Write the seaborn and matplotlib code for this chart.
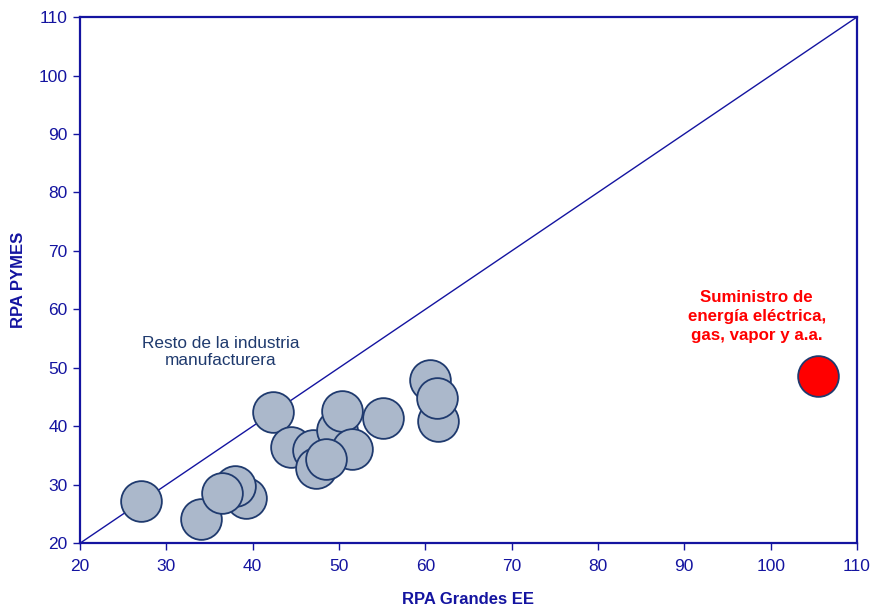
import matplotlib

matplotlib.use("Agg")
import matplotlib.pyplot as plt
import pandas as pd
import seaborn as sns

# RPA de grandes empresas (x) vs RPA de PYMES (y), por rama
rest_x = [27.1, 34.0, 39.2, 38.0, 36.5, 42.4, 44.5, 47.0, 49.8, 47.3, 50.3, 51.5, 48.5, 55.1, 60.5, 61.5, 61.3]
rest_y = [27.2, 24.2, 27.8, 29.8, 28.6, 42.4, 36.5, 35.9, 39.3, 32.8, 42.7, 36.1, 34.4, 41.4, 47.9, 40.9, 44.9]
energy_x = [105.5]
energy_y = [48.6]
diag = [20, 110]

NAVY = "#1414A0"
TEXT_NAVY = "#1F3A6E"

sns.set_theme(style="white")
plt.rcParams["font.family"] = ["Liberation Sans", "DejaVu Sans"]

df_rest = pd.DataFrame({"x": rest_x, "y": rest_y})
df_energy = pd.DataFrame({"x": energy_x, "y": energy_y})

fig, ax = plt.subplots(figsize=(8.74, 6.09), dpi=100)
fig.subplots_adjust(left=0.0915, right=0.9805, top=0.972, bottom=0.108)

ax.plot(diag, diag, color=NAVY, linewidth=1.0, zorder=1)
sns.scatterplot(data=df_rest, x="x", y="y", s=860, color="#ABB8CB",
                edgecolor="#1F3A6E", linewidth=1.3, ax=ax, zorder=3, legend=False)
sns.scatterplot(data=df_energy, x="x", y="y", s=860, color="#FF0000",
                edgecolor="#1F3A6E", linewidth=1.3, ax=ax, zorder=3, legend=False)

ax.set_xlim(20, 110)
ax.set_ylim(20, 110)
ax.set_xticks(range(20, 111, 10))
ax.set_yticks(range(20, 111, 10))

for side in ["left", "bottom", "top", "right"]:
    ax.spines[side].set_color(NAVY)
    ax.spines[side].set_linewidth(1.6)
ax.tick_params(axis="both", direction="out", length=5, width=1, color=NAVY,
               labelcolor=NAVY, labelsize=12.5, bottom=True, left=True)
ax.tick_params(axis="x", pad=6)
ax.tick_params(axis="y", pad=4)

ax.set_xlabel("RPA Grandes EE", fontsize=12, fontweight="bold", color=NAVY, labelpad=13)
ax.set_ylabel("RPA PYMES", fontsize=12, fontweight="bold", color=NAVY, labelpad=9)

ax.text(36.3, 52.7, "Resto de la industria\nmanufacturera", ha="center", va="center",
        fontsize=12.4, color=TEXT_NAVY, linespacing=1.2)
ax.text(98.4, 58.8, "Suministro de\nenergía eléctrica,\ngas, vapor y a.a.", ha="center", va="center",
        fontsize=12.2, fontweight="bold", color="#FF0000", linespacing=1.35)

fig.savefig("out.png", dpi=100)
